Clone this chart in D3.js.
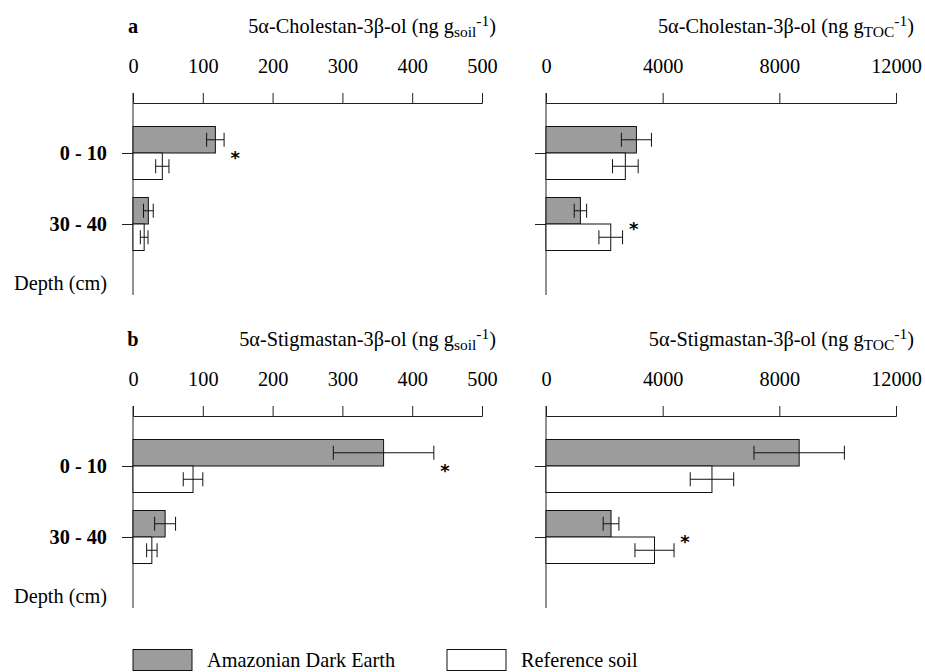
<!DOCTYPE html>
<html lang="en">
<head>
<meta charset="utf-8">
<title>Sterols by depth</title>
<script src="https://d3js.org/d3.v7.min.js"></script>
<style>
  body { margin: 0; background: #fff; }
  .axis path, .axis line { stroke: #222; }
</style>
</head>
<body>
<script>
// data
const depths = ["0 - 10", "30 - 40"];
const seriesNames = ["Amazonian Dark Earth", "Reference soil"];
const soilTicks = [0, 100, 200, 300, 400, 500];
const tocTicks = [0, 4000, 8000, 12000];

const cholSoilADE = [118, 22],   cholSoilADEerr = [12.5, 7];
const cholSoilRef = [42, 16],    cholSoilReferr = [9.5, 5.5];
const cholTocADE = [3100, 1180], cholTocADEerr = [515, 212];
const cholTocRef = [2720, 2220], cholTocReferr = [440, 406];
const stigSoilADE = [359, 46],   stigSoilADEerr = [72, 15];
const stigSoilRef = [86, 27],    stigSoilReferr = [14, 7.5];
const stigTocADE = [8680, 2230], stigTocADEerr = [1550, 270];
const stigTocRef = [5690, 3720], stigTocReferr = [745, 670];

// significant difference marks (per depth)
const cholSoilSig = [true, false];
const cholTocSig = [false, true];
const stigSoilSig = [true, false];
const stigTocSig = [false, true];

const W = 925, H = 672;
const fills = ["#9c9c9c", "#ffffff"];
const serif = "'Liberation Serif', 'Times New Roman', Times, 'DejaVu Serif', serif";
const fs = "20.3px";

const svg = d3.select("body").append("svg")
    .attr("width", W)
    .attr("height", H)
    .attr("font-family", serif);

const panels = [
  {letter: "a", name: "5α-Cholestan-3β-ol", unit: "soil", x0: 133, w: 349, top: 103, titleX: 496,
   max: 500, ticks: soilTicks, ade: cholSoilADE, adeErr: cholSoilADEerr, ref: cholSoilRef, refErr: cholSoilReferr, sig: cholSoilSig, labels: true},
  {letter: "", name: "5α-Cholestan-3β-ol", unit: "TOC", x0: 546, w: 350, top: 103, titleX: 914,
   max: 12000, ticks: tocTicks, ade: cholTocADE, adeErr: cholTocADEerr, ref: cholTocRef, refErr: cholTocReferr, sig: cholTocSig, labels: false},
  {letter: "b", name: "5α-Stigmastan-3β-ol", unit: "soil", x0: 133, w: 349, top: 416, titleX: 496,
   max: 500, ticks: soilTicks, ade: stigSoilADE, adeErr: stigSoilADEerr, ref: stigSoilRef, refErr: stigSoilReferr, sig: stigSoilSig, labels: true},
  {letter: "", name: "5α-Stigmastan-3β-ol", unit: "TOC", x0: 546, w: 350, top: 416, titleX: 914,
   max: 12000, ticks: tocTicks, ade: stigTocADE, adeErr: stigTocADEerr, ref: stigTocRef, refErr: stigTocReferr, sig: stigTocSig, labels: false}
];

const barH = 26.5;

panels.forEach(p => {
  const g = svg.append("g").attr("transform", `translate(0,${p.top})`);

  const x = d3.scaleLinear().domain([0, p.max]).range([p.x0, p.x0 + p.w]);
  const y = d3.scalePoint().domain(depths).range([50, 121]);

  // title with sub- and superscript
  const t = g.append("text")
      .attr("x", p.titleX)
      .attr("y", -70)
      .attr("text-anchor", "end")
      .style("font-family", serif)
      .style("font-size", fs);
  t.append("tspan").text(p.name + " (ng g");
  t.append("tspan").attr("dy", 4).style("font-size", "15.5px").text(p.unit);
  t.append("tspan").attr("dy", -11).style("font-size", "15.5px").text("-1");
  t.append("tspan").attr("dy", 7).text(")");

  if (p.letter) {
    g.append("text")
        .attr("x", p.x0)
        .attr("y", -70)
        .attr("text-anchor", "middle")
        .style("font-family", serif)
        .style("font-size", fs)
        .style("font-weight", "bold")
        .text(p.letter);
  }

  // top axis
  const xAxis = g.append("g")
      .attr("class", "axis")
      .call(d3.axisTop(x).tickValues(p.ticks).tickSize(10).tickPadding(20).tickFormat(d3.format("d")));
  xAxis.selectAll("text")
      .style("font-family", serif)
      .style("font-size", fs)
      .attr("fill", "#000");

  // vertical axis
  g.append("line")
      .attr("x1", p.x0).attr("x2", p.x0)
      .attr("y1", -10).attr("y2", 192)
      .attr("stroke", "#222");

  const yAxis = g.append("g")
      .attr("class", "axis")
      .attr("transform", `translate(${p.x0},0)`)
      .call(d3.axisLeft(y).tickSize(11).tickPadding(15).tickSizeOuter(0));
  yAxis.select(".domain").remove();
  if (!p.labels) yAxis.selectAll("text").remove();
  yAxis.selectAll("text")
      .style("font-family", serif)
      .style("font-size", fs)
      .style("font-weight", "bold")
      .attr("fill", "#000");

  if (p.labels) {
    g.append("text")
        .attr("x", 107)
        .attr("y", 187)
        .attr("text-anchor", "end")
        .style("font-family", serif)
        .style("font-size", fs)
        .text("Depth (cm)");
  }

  const rows = [];
  depths.forEach((d, i) => {
    rows.push({depth: d, s: 0, v: p.ade[i], e: p.adeErr[i]});
    rows.push({depth: d, s: 1, v: p.ref[i], e: p.refErr[i]});
  });

  const barY = r => y(r.depth) + (r.s === 0 ? -barH : 0);

  g.selectAll("rect.bar")
    .data(rows)
    .join("rect")
      .attr("class", "bar")
      .attr("x", x(0))
      .attr("y", barY)
      .attr("width", r => x(r.v) - x(0))
      .attr("height", barH)
      .attr("fill", r => fills[r.s])
      .attr("stroke", "#111")
      .attr("stroke-width", 1);

  // error bars
  const eb = g.selectAll("g.err")
    .data(rows)
    .join("g")
      .attr("class", "err")
      .attr("stroke", "#111")
      .attr("stroke-width", 1);
  eb.append("line")
      .attr("x1", r => x(r.v - r.e)).attr("x2", r => x(r.v + r.e))
      .attr("y1", r => barY(r) + barH / 2).attr("y2", r => barY(r) + barH / 2);
  eb.append("line")
      .attr("x1", r => x(r.v - r.e)).attr("x2", r => x(r.v - r.e))
      .attr("y1", r => barY(r) + barH / 2 - 7).attr("y2", r => barY(r) + barH / 2 + 7);
  eb.append("line")
      .attr("x1", r => x(r.v + r.e)).attr("x2", r => x(r.v + r.e))
      .attr("y1", r => barY(r) + barH / 2 - 7).attr("y2", r => barY(r) + barH / 2 + 7);

  // significance stars
  depths.forEach((d, i) => {
    if (!p.sig[i]) return;
    const end = Math.max(p.ade[i] + p.adeErr[i], p.ref[i] + p.refErr[i]);
    g.append("text")
        .attr("x", x(end) + 11)
        .attr("y", y(d) + 11)
        .attr("text-anchor", "middle")
        .style("font-size", "18px")
        .style("font-weight", "bold")
        .style("font-family", "'DejaVu Sans', sans-serif")
        .text("*");
  });
});

// legend
const legend = svg.append("g").attr("transform", "translate(0,649.5)");
const legendX = [133, 447];
seriesNames.forEach((name, i) => {
  legend.append("rect")
      .attr("x", legendX[i]).attr("y", 0)
      .attr("width", 59).attr("height", 21)
      .attr("fill", fills[i])
      .attr("stroke", "#111");
  legend.append("text")
      .attr("x", legendX[i] + 74)
      .attr("y", 17)
      .style("font-family", serif)
      .style("font-size", fs)
      .text(name);
});
</script>
</body>
</html>
